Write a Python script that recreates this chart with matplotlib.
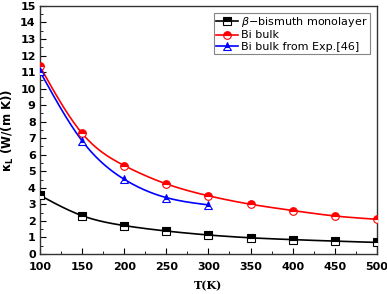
import numpy as np
import matplotlib
matplotlib.use("Agg")
import matplotlib.pyplot as plt
from matplotlib.ticker import MultipleLocator

T_mono = [100, 150, 200, 250, 300, 350, 400, 450, 500]
k_mono = [3.55, 2.32, 1.72, 1.39, 1.15, 0.98, 0.87, 0.78, 0.70]
T_bulk = [100, 150, 200, 250, 300, 350, 400, 450, 500]
k_bulk = [11.35, 7.3, 5.35, 4.24, 3.52, 3.01, 2.63, 2.30, 2.10]
T_exp = [100, 150, 200, 250, 300]
k_exp = [11.05, 6.85, 4.52, 3.41, 2.97]

labels = [r"$\beta$$-$bismuth monolayer", "Bi bulk", "Bi bulk from Exp.[46]"]
colors = ["black", "red", "blue"]
markers = ["s", "o", "^"]


def natural_spline(x, y, xs):
    x = np.asarray(x, float); y = np.asarray(y, float)
    n = len(x)
    h = np.diff(x)
    A = np.zeros((n, n)); b = np.zeros(n)
    A[0, 0] = 1; A[-1, -1] = 1
    for i in range(1, n - 1):
        A[i, i - 1] = h[i - 1]
        A[i, i] = 2 * (h[i - 1] + h[i])
        A[i, i + 1] = h[i]
        b[i] = 3 * ((y[i + 1] - y[i]) / h[i] - (y[i] - y[i - 1]) / h[i - 1])
    c = np.linalg.solve(A, b)
    out = np.empty_like(xs)
    for j, xv in enumerate(xs):
        i = min(max(np.searchsorted(x, xv) - 1, 0), n - 2)
        bi = (y[i + 1] - y[i]) / h[i] - h[i] * (2 * c[i] + c[i + 1]) / 3
        di = (c[i + 1] - c[i]) / (3 * h[i])
        dx = xv - x[i]
        out[j] = y[i] + bi * dx + c[i] * dx ** 2 + di * dx ** 3
    return out


fig = plt.figure(figsize=(3.87, 2.94), dpi=100)
ax = fig.add_axes([0.103, 0.136, 0.871, 0.844])

for T, k, lab, c, m in zip([T_mono, T_bulk, T_exp], [k_mono, k_bulk, k_exp], labels, colors, markers):
    tt = np.linspace(min(T), max(T), 300)
    ax.plot(tt, natural_spline(T, k, tt), color=c, lw=1.2, zorder=2)
    ax.plot(T, k, marker=m, ms=5.5, fillstyle="top", color=c,
            markerfacecoloralt="white", mec=c, mew=0.8, linestyle="none", zorder=3)
    ax.plot([], [], color=c, lw=1.2, marker=m, ms=5.5, fillstyle="top",
            markerfacecoloralt="white", mec=c, mew=0.8, label=lab)

ax.set_xlim(100, 500)
ax.set_ylim(0, 15)
ax.xaxis.set_major_locator(MultipleLocator(50))
ax.xaxis.set_minor_locator(MultipleLocator(25))
ax.yaxis.set_major_locator(MultipleLocator(1))
ax.yaxis.set_minor_locator(MultipleLocator(0.5))
ax.tick_params(which="both", direction="in", top=False, right=False)
ax.tick_params(which="major", length=4, labelsize=8)
ax.tick_params(axis="x", which="major", pad=6)
ax.tick_params(axis="y", which="major", pad=3)
ax.tick_params(which="minor", length=2)
for l in ax.get_xticklabels() + ax.get_yticklabels():
    l.set_fontweight("bold")
for s in ax.spines.values():
    s.set_linewidth(1.0)
    s.set_color("#333333")

ax.set_xlabel("T(K)", family="DejaVu Serif", fontweight="bold", fontsize=8, labelpad=6)
ax.set_ylabel(r"$\mathbf{\kappa_L}$ (W/(m K))", fontweight="bold", fontsize=8.5, labelpad=3)

leg = ax.legend(loc="upper right", fontsize=8, frameon=True, fancybox=False,
                edgecolor="#666666", borderpad=0.2, labelspacing=0.15,
                handlelength=2.0, handletextpad=0.3, borderaxespad=0.6)
leg.get_frame().set_linewidth(0.8)

fig.savefig("out.png", dpi=100)
